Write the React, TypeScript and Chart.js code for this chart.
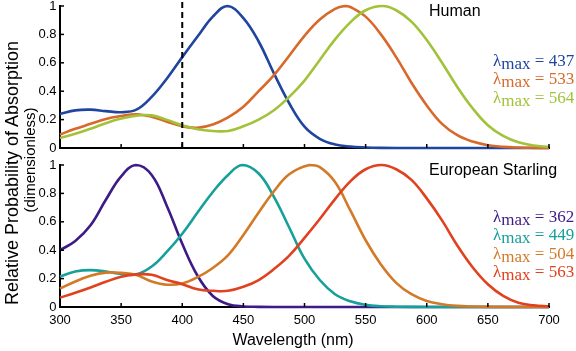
import React, { useEffect, useRef } from "react";
import { Chart, registerables } from "chart.js";

Chart.register(...registerables);

// ---- axis ticks ----
const xTickValues = [300, 350, 400, 450, 500, 550, 600, 650, 700];
const yTickValues = [0, 0.2, 0.4, 0.6, 0.8, 1];
const yTickLabels = ["0", "0.2", "0.4", "0.6", "0.8", "1"];
const dashedAt = 400;

// ---- Human (top panel) ----
const humanS_nm = [300, 312.5, 325, 337.5, 350, 362.5, 375, 387.5, 400, 412.5, 425, 437, 450, 462.5, 475, 487.5, 500, 512.5, 525, 537.5, 550, 562.5, 575, 600, 650, 700];
const humanS_val = [0.24, 0.265, 0.27, 0.26, 0.252, 0.27, 0.36, 0.49, 0.64, 0.785, 0.925, 1.0, 0.915, 0.75, 0.525, 0.315, 0.15, 0.065, 0.025, 0.01, 0.004, 0.001, 0, 0, 0, 0];

const humanM_nm = [300, 312.5, 325, 337.5, 350, 362.5, 375, 387.5, 400, 412.5, 425, 437.5, 450, 462.5, 475, 487.5, 500, 512.5, 525, 533, 537.5, 550, 562.5, 575, 587.5, 600, 612.5, 625, 637.5, 650, 662.5, 675, 687.5, 700];
const humanM_val = [0.095, 0.135, 0.17, 0.205, 0.225, 0.237, 0.22, 0.185, 0.153, 0.142, 0.165, 0.215, 0.29, 0.4, 0.513, 0.65, 0.79, 0.905, 0.98, 1.0, 0.993, 0.925, 0.8, 0.64, 0.46, 0.3, 0.17, 0.09, 0.045, 0.02, 0.008, 0.003, 0.001, 0];

const humanL_nm = [300, 312.5, 325, 337.5, 350, 362.5, 375, 387.5, 400, 412.5, 425, 437.5, 450, 462.5, 475, 487.5, 500, 512.5, 525, 537.5, 550, 564, 575, 587.5, 600, 612.5, 625, 637.5, 650, 662.5, 675, 687.5, 700];
const humanL_val = [0.07, 0.1, 0.136, 0.175, 0.207, 0.228, 0.23, 0.198, 0.16, 0.132, 0.12, 0.12, 0.153, 0.2, 0.266, 0.36, 0.475, 0.62, 0.765, 0.885, 0.97, 1.0, 0.97, 0.89, 0.76, 0.6, 0.43, 0.28, 0.16, 0.085, 0.04, 0.018, 0.008];

// ---- European Starling (bottom panel) ----
const starUV_nm = [300, 312.5, 325, 337.5, 350, 362, 375, 387.5, 400, 412.5, 425, 437.5, 450, 462.5, 475, 500, 550, 600, 650, 700];
const starUV_val = [0.4, 0.465, 0.575, 0.755, 0.92, 1.0, 0.93, 0.71, 0.445, 0.22, 0.078, 0.02, 0.004, 0.001, 0, 0, 0, 0, 0, 0];

const starS_nm = [300, 312.5, 325, 337.5, 350, 362.5, 375, 387.5, 400, 412.5, 425, 437.5, 449, 462.5, 475, 487.5, 500, 512.5, 525, 537.5, 550, 562.5, 575, 600, 650, 700];
const starS_val = [0.215, 0.25, 0.26, 0.25, 0.232, 0.23, 0.285, 0.39, 0.516, 0.665, 0.81, 0.93, 1.0, 0.94, 0.776, 0.56, 0.34, 0.19, 0.09, 0.04, 0.015, 0.005, 0.002, 0, 0, 0];

const starM_nm = [300, 312.5, 325, 337.5, 350, 362.5, 375, 387.5, 400, 412.5, 425, 437.5, 450, 462.5, 475, 487.5, 504, 512.5, 525, 537.5, 550, 562.5, 575, 587.5, 600, 612.5, 625, 637.5, 650, 700];
const starM_val = [0.13, 0.18, 0.22, 0.242, 0.24, 0.225, 0.18, 0.157, 0.166, 0.21, 0.275, 0.365, 0.507, 0.665, 0.815, 0.935, 1.0, 0.985, 0.88, 0.68, 0.47, 0.3, 0.17, 0.09, 0.043, 0.02, 0.008, 0.003, 0.001, 0];

const starL_nm = [300, 312.5, 325, 337.5, 350, 362.5, 375, 387.5, 400, 412.5, 425, 437.5, 450, 462.5, 475, 487.5, 500, 512.5, 525, 537.5, 550, 563, 575, 587.5, 600, 612.5, 625, 637.5, 650, 662.5, 675, 687.5, 700];
const starL_val = [0.066, 0.1, 0.137, 0.178, 0.213, 0.23, 0.227, 0.19, 0.161, 0.125, 0.114, 0.114, 0.142, 0.19, 0.267, 0.362, 0.487, 0.62, 0.76, 0.885, 0.97, 1.0, 0.97, 0.895, 0.765, 0.61, 0.433, 0.28, 0.16, 0.078, 0.03, 0.012, 0.005];

// ---- legends ----
const humanPeaks = ["437", "533", "564"];
const humanColors = ["#1f459e", "#d8692a", "#a2c23a"];
const starPeaks = ["362", "449", "504", "563"];
const starColors = ["#3d1a87", "#16a09a", "#d27a28", "#e0411e"];

const pts = (xs: number[], ys: number[]) => xs.map((x, i) => ({ x, y: ys[i] }));

const inwardTicks = {
  id: "inwardTicks",
  afterDraw(chart: any) {
    const { ctx, chartArea, scales } = chart;
    const xs = scales.x;
    const ys = scales.y;
    ctx.save();
    ctx.strokeStyle = "#000";
    ctx.lineWidth = 1.5;
    xTickValues.forEach((v) => {
      const px = xs.getPixelForValue(v);
      ctx.beginPath();
      ctx.moveTo(px, chartArea.bottom);
      ctx.lineTo(px, chartArea.bottom - 4);
      ctx.stroke();
    });
    yTickValues.forEach((v) => {
      const py = ys.getPixelForValue(v);
      ctx.beginPath();
      ctx.moveTo(chartArea.left, py);
      ctx.lineTo(chartArea.left + 4, py);
      ctx.stroke();
    });
    ctx.restore();
  },
};

const makeOptions = (showLabels: boolean, xHeight: number): any => ({
  responsive: false,
  animation: false,
  events: [],
  layout: { padding: { left: 0, right: 27, top: 0, bottom: 0 } },
  plugins: { legend: { display: false }, tooltip: { enabled: false }, title: { display: false } },
  elements: {
    point: { radius: 0 },
    line: { borderWidth: 2.5, tension: 0.4 },
  },
  scales: {
    x: {
      type: "linear",
      min: 300,
      max: 700,
      afterBuildTicks: (s: any) => {
        s.ticks = xTickValues.map((v) => ({ value: v }));
      },
      ticks: {
        display: showLabels,
        padding: 6,
        autoSkip: false,
        maxRotation: 0,
        color: "#000",
        font: { family: "'Liberation Sans', Arial, sans-serif", size: 13 },
        callback: (v: any) => String(v),
      },
      grid: { display: true, drawOnChartArea: false, drawTicks: false },
      border: { display: true, color: "#000", width: 2 },
      afterFit: (s: any) => {
        s.height = xHeight;
      },
    },
    y: {
      type: "linear",
      min: 0,
      max: 1,
      afterBuildTicks: (s: any) => {
        s.ticks = yTickValues.map((v) => ({ value: v }));
      },
      ticks: {
        padding: 3.5,
        color: "#000",
        font: { family: "'Liberation Sans', Arial, sans-serif", size: 13, lineHeight: 1 },
        callback: (_v: any, i: number) => yTickLabels[i],
      },
      grid: { display: true, drawOnChartArea: false, drawTicks: false },
      border: { display: true, color: "#000", width: 2 },
      afterFit: (s: any) => {
        s.width = 60;
      },
    },
  },
});

const line = (xs: number[], ys: number[], color: string) => ({
  data: pts(xs, ys),
  borderColor: color,
  backgroundColor: color,
  borderWidth: 2.6,
  pointRadius: 0,
  fill: false,
  clip: false,
  tension: 0.4,
  cubicInterpolationMode: "default",
});

export default function App() {
  const topRef = useRef<HTMLCanvasElement | null>(null);
  const botRef = useRef<HTMLCanvasElement | null>(null);

  useEffect(() => {
    if (!topRef.current || !botRef.current) return;
    const top = new Chart(topRef.current, {
      type: "line",
      data: {
        datasets: [
          {
            data: [
              { x: dashedAt, y: 0 },
              { x: dashedAt, y: 1.04 },
            ],
            borderColor: "#000",
            borderWidth: 2,
            borderDash: [6, 4],
            pointRadius: 0,
            clip: false,
            tension: 0,
          } as any,
          line(humanL_nm, humanL_val, humanColors[2]),
          line(humanM_nm, humanM_val, humanColors[1]),
          line(humanS_nm, humanS_val, humanColors[0]),
        ],
      },
      options: makeOptions(false, 10),
      plugins: [inwardTicks],
    } as any);
    const bot = new Chart(botRef.current, {
      type: "line",
      data: {
        datasets: [
          line(starL_nm, starL_val, starColors[3]),
          line(starM_nm, starM_val, starColors[2]),
          line(starS_nm, starS_val, starColors[1]),
          line(starUV_nm, starUV_val, starColors[0]),
        ],
      },
      options: makeOptions(true, 44),
      plugins: [inwardTicks],
    } as any);
    return () => {
      top.destroy();
      bot.destroy();
    };
  }, []);

  const sans = "'Liberation Sans', Arial, Helvetica, sans-serif";
  const serif = "'Liberation Serif', 'Times New Roman', Times, serif";

  const legendBlock = (peaks: string[], colors: string[], topPx: number) => (
    <div style={{ position: "absolute", left: 493, top: topPx, fontFamily: serif, fontSize: 17, lineHeight: "18.3px", whiteSpace: "nowrap" }}>
      {peaks.map((p, i) => (
        <div key={p} style={{ color: colors[i] }}>
          λ<span style={{ position: "relative", top: 3 }}>max</span> = {p}
        </div>
      ))}
    </div>
  );

  return (
    <div style={{ position: "fixed", left: 0, top: 0, width: 576, height: 351, overflow: "hidden", background: "#fff" }}>
      <canvas ref={topRef} width={576} height={162} style={{ position: "absolute", left: 0, top: -4 }} />
      <canvas ref={botRef} width={576} height={196} style={{ position: "absolute", left: 0, top: 155 }} />

      <div style={{ position: "absolute", left: 429, top: 2, fontFamily: sans, fontSize: 16, lineHeight: "18px", color: "#000" }}>Human</div>
      <div style={{ position: "absolute", left: 429, top: 161, fontFamily: sans, fontSize: 16, lineHeight: "18px", color: "#000", whiteSpace: "nowrap" }}>European Starling</div>

      {legendBlock(humanPeaks, humanColors, 52)}
      {legendBlock(starPeaks, starColors, 208)}

      <div style={{ position: "absolute", left: 193, top: 331, width: 200, textAlign: "center", fontFamily: sans, fontSize: 16, lineHeight: "18px", color: "#000" }}>Wavelength (nm)</div>

      <div style={{ position: "absolute", left: 11.5 - 160, top: 173 - 10, width: 320, height: 20, lineHeight: "20px", textAlign: "center", transform: "rotate(-90deg)", fontFamily: sans, fontSize: 18, color: "#000", whiteSpace: "nowrap" }}>Relative Probability of Absorption</div>
      <div style={{ position: "absolute", left: 29.5 - 160, top: 160 - 10, width: 320, height: 20, lineHeight: "20px", textAlign: "center", transform: "rotate(-90deg)", fontFamily: sans, fontSize: 15, color: "#000", whiteSpace: "nowrap" }}>(dimensionless)</div>
    </div>
  );
}
